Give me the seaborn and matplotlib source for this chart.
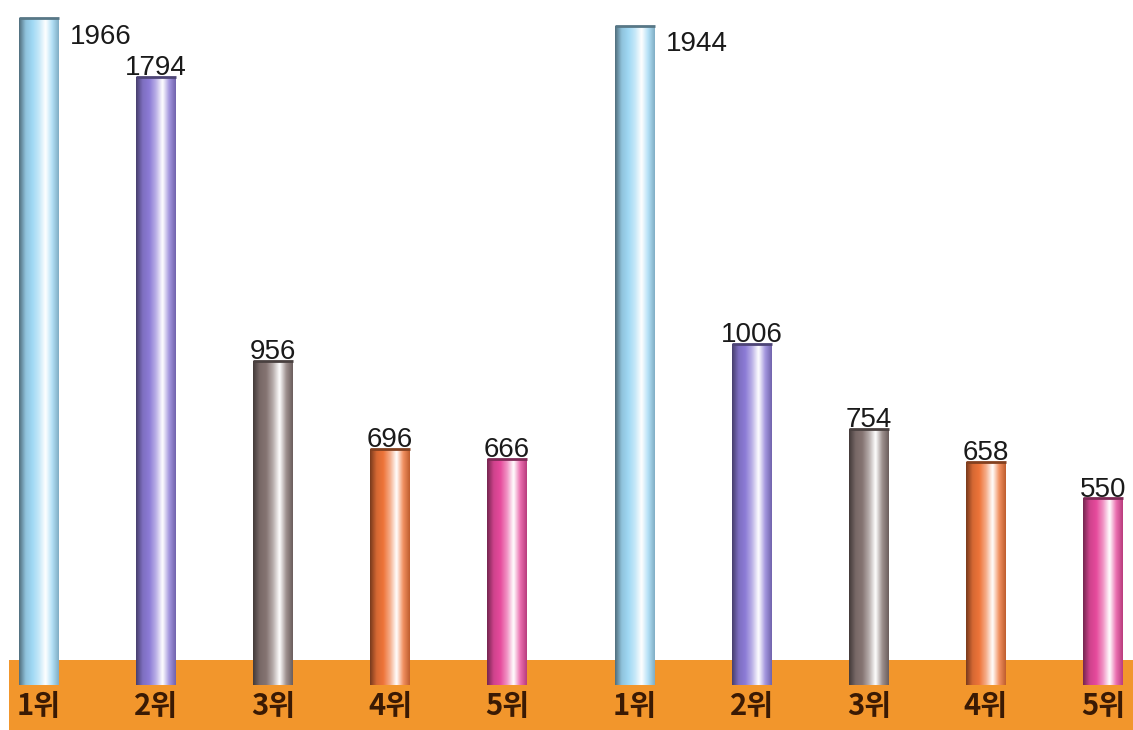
import numpy as np
import pandas as pd
import matplotlib
matplotlib.use("Agg")
import matplotlib.pyplot as plt
import seaborn as sns
from matplotlib.colors import LinearSegmentedColormap, to_rgb

# data
ranks = ["1위", "2위", "3위", "4위", "5위"]
left_values = [1966, 1794, 956, 696, 666]
right_values = [1944, 1006, 754, 658, 550]
bar_colors = ["#9fd8f4", "#8c7bd6", "#857472", "#ee7439", "#e64a9c"]

sns.set_theme(style="white")
plt.rcParams["font.family"] = ["Liberation Sans", "Noto Sans CJK KR", "DejaVu Sans"]

fig = plt.figure(figsize=(11.33, 7.3), dpi=100)
fig.patch.set_facecolor("white")
ax1 = fig.add_axes([0.008, 0, 0.492, 1])
ax2 = fig.add_axes([0.5, 0, 0.5, 1])

ylim = (-133, 2020)


def cylinder(c):
    r = np.array(to_rgb(c))
    stops = [r * 0.5, r * 0.9, r, r * 0.6 + 0.4, (1, 1, 1), r * 0.8 + 0.2, r * 0.8]
    return LinearSegmentedColormap.from_list("cyl", [tuple(np.clip(s, 0, 1)) for s in stops])


def draw(ax, values, xlim):
    df = pd.DataFrame({"rank": ranks, "value": values})
    sns.barplot(data=df, x="rank", y="value", hue="rank", palette=bar_colors,
                legend=False, width=0.34, ax=ax, zorder=2, linewidth=0)
    grad = np.linspace(0, 1, 256).reshape(1, -1)
    for i, (patch, c, v) in enumerate(zip(list(ax.patches), bar_colors, values)):
        x0, w, h = patch.get_x(), patch.get_width(), patch.get_height()
        im = ax.imshow(grad, cmap=cylinder(c), aspect="auto", extent=(x0, x0 + w, 0, h),
                       zorder=3, interpolation="bicubic")
        im.set_clip_path(patch)
        top = np.array(to_rgb(c)) * 0.55
        ax.plot([x0, x0 + w], [h, h], color=top, lw=2, zorder=4, solid_capstyle="butt")
        if i == 0:
            ax.annotate(f"{v}", (x0 + w, h), xytext=(8, -4), textcoords="offset points",
                        ha="left", va="top", fontsize=20, color="#1a1a1a", zorder=5)
        else:
            ax.annotate(f"{v}", (i, h), xytext=(0, -3), textcoords="offset points",
                        ha="center", va="bottom", fontsize=20, color="#1a1a1a", zorder=5)
        ax.text(i, -62, ranks[i], ha="center", va="center", fontsize=21, fontweight="heavy",
                color="#3a1a04", family=["Noto Sans CJK KR", "DejaVu Sans"], zorder=5)
    ax.axhspan(ylim[0], 74, color="#f2962c", zorder=1, lw=0)
    ax.set_xlim(*xlim)
    ax.set_ylim(*ylim)
    ax.set_xlabel("")
    ax.set_ylabel("")
    ax.set_xticks([])
    ax.set_yticks([])
    sns.despine(ax=ax, left=True, bottom=True)


draw(ax1, left_values, (-0.255, 4.507))
draw(ax2, right_values, (-0.585, 4.257))

fig.savefig("out.png", dpi=100, facecolor="white")
